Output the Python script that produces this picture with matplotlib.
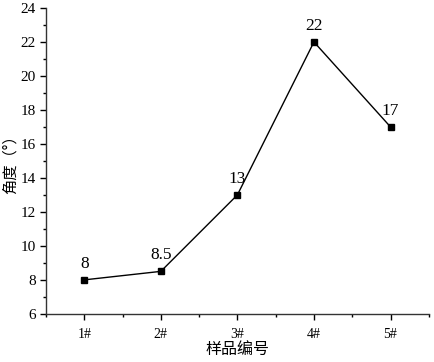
import matplotlib
matplotlib.use("Agg")
from matplotlib import pyplot as plt
from matplotlib.ticker import MultipleLocator

samples = ["1#", "2#", "3#", "4#", "5#"]
angles = [8, 8.5, 13, 22, 17]
labels = ["8", "8.5", "13", "22", "17"]

plt.rcParams["font.family"] = ["Liberation Serif", "Noto Sans CJK SC"]

fig = plt.figure(figsize=(4.34, 3.62), dpi=100)
ax = fig.add_axes([0.106, 0.133, 0.882, 0.845])

x = list(range(1, len(samples) + 1))
ax.plot(x, angles, "-s", color="black", lw=1, markersize=5)
for xi, yi, t in zip(x, angles, labels):
    ax.annotate(t, (xi, yi), xytext=(0, 6), textcoords="offset points",
                ha="center", va="bottom", fontsize=12.5)

ax.set_xlim(0.5, 5.5)
ax.set_ylim(6, 24)
ax.set_xticks(x)
ax.set_xticklabels(samples, fontsize=10)
ax.xaxis.set_minor_locator(MultipleLocator(0.5))
ax.yaxis.set_major_locator(MultipleLocator(2))
ax.yaxis.set_minor_locator(MultipleLocator(1))
ax.tick_params(axis="y", labelsize=11)
ax.tick_params(axis="x", pad=6)
ax.tick_params(which="major", length=4, width=1, direction="out")
ax.tick_params(which="minor", length=2.5, width=1, direction="out")
ax.spines["top"].set_visible(False)
ax.spines["right"].set_visible(False)
for s in ("left", "bottom"):
    ax.spines[s].set_linewidth(1)
    ax.spines[s].set_color("#333333")

ax.set_xlabel("样品编号", fontsize=11.5, labelpad=1)
ax.set_ylabel("角度（°）", fontsize=11, labelpad=1, family="Noto Sans CJK SC")

fig.savefig("out.png", dpi=100)
